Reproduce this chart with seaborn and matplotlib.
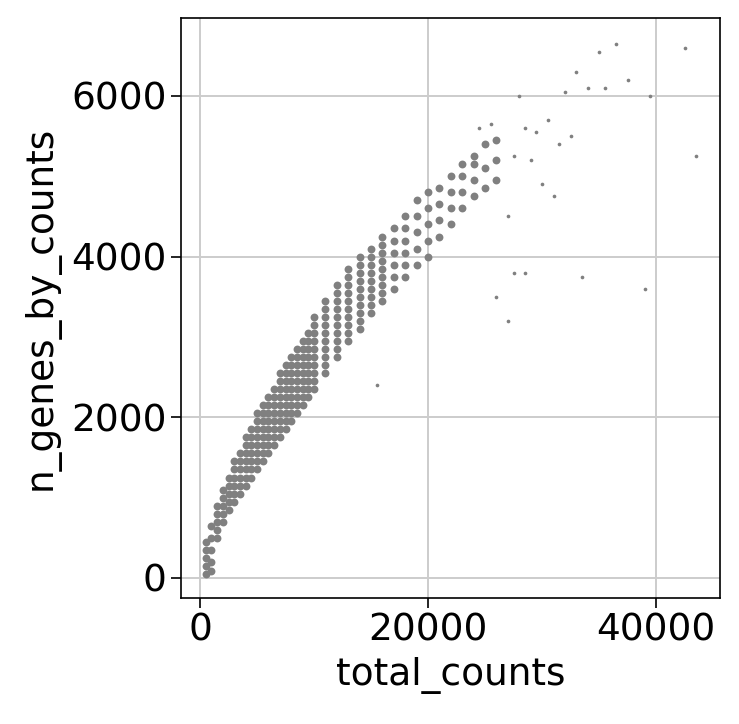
import matplotlib.pyplot as plt
import seaborn as sns
import pandas as pd

# dense band, read column by column (total_counts -> n_genes values)
band_x = [500, 1000, 1500, 2000, 2500, 3000, 3500, 4000, 4500, 5000, 5500, 6000,
          6500, 7000, 7500, 8000, 8500, 9000, 9500, 10000, 11000, 12000, 13000,
          14000, 15000, 16000, 17000, 18000, 19000, 20000, 21000, 22000, 23000,
          24000, 25000, 26000]
band_y = [
    [50, 150, 250, 350, 450],
    [80, 200, 350, 500, 650],
    [500, 600, 700, 800, 900],
    [700, 800, 900, 1000, 1100],
    [850, 950, 1050, 1150, 1250],
    [950, 1050, 1150, 1250, 1350, 1450],
    [1050, 1150, 1250, 1350, 1450, 1550],
    [1150, 1250, 1350, 1450, 1550, 1650, 1750],
    [1250, 1350, 1450, 1550, 1650, 1750, 1850],
    [1350, 1450, 1550, 1650, 1750, 1850, 1950, 2050],
    [1450, 1550, 1650, 1750, 1850, 1950, 2050, 2150],
    [1550, 1650, 1750, 1850, 1950, 2050, 2150, 2250],
    [1650, 1750, 1850, 1950, 2050, 2150, 2250, 2350],
    [1750, 1850, 1950, 2050, 2150, 2250, 2350, 2450, 2550],
    [1850, 1950, 2050, 2150, 2250, 2350, 2450, 2550, 2650],
    [1950, 2050, 2150, 2250, 2350, 2450, 2550, 2650, 2750],
    [2050, 2150, 2250, 2350, 2450, 2550, 2650, 2750, 2850],
    [2150, 2250, 2350, 2450, 2550, 2650, 2750, 2850, 2950],
    [2250, 2350, 2450, 2550, 2650, 2750, 2850, 2950, 3050],
    [2350, 2450, 2550, 2650, 2750, 2850, 2950, 3050, 3150, 3250],
    [2550, 2650, 2750, 2850, 2950, 3050, 3150, 3250, 3350, 3450],
    [2750, 2850, 2950, 3050, 3150, 3250, 3350, 3450, 3550, 3650],
    [2950, 3050, 3150, 3250, 3350, 3450, 3550, 3650, 3750, 3850],
    [3100, 3200, 3300, 3400, 3500, 3600, 3700, 3800, 3900, 4000],
    [3300, 3400, 3500, 3600, 3700, 3800, 3900, 4000, 4100],
    [3450, 3550, 3650, 3750, 3850, 3950, 4050, 4150, 4250],
    [3600, 3750, 3900, 4050, 4200, 4350],
    [3750, 3900, 4050, 4200, 4350, 4500],
    [3900, 4100, 4300, 4500, 4700],
    [4000, 4200, 4400, 4600, 4800],
    [4250, 4450, 4650, 4850],
    [4400, 4600, 4800, 5000],
    [4600, 4800, 5000, 5150],
    [4750, 4950, 5150, 5250],
    [4850, 5100, 5400],
    [4950, 5200, 5450],
]

# sparse cells at high counts
out_x = [27000, 26000, 27500, 28500, 31000, 33500, 39000, 43500, 42500, 36500,
         35000, 37500, 39500, 33000, 32000, 34000, 35500, 30500, 29500, 28000,
         27500, 31500, 30000, 29000, 28500, 32500, 15500, 27000, 24500, 25500]
out_y = [3200, 3500, 3800, 3800, 4750, 3750, 3600, 5250, 6600, 6650,
         6550, 6200, 6000, 6300, 6050, 6100, 6100, 5700, 5550, 6000,
         5250, 5400, 4900, 5200, 5600, 5500, 2400, 4500, 5600, 5650]

xs, ys = [], []
for x, col in zip(band_x, band_y):
    xs += [x] * len(col)
    ys += col
df = pd.DataFrame({"total_counts": xs, "n_genes_by_counts": ys})
df_out = pd.DataFrame({"total_counts": out_x, "n_genes_by_counts": out_y})

sns.set_style("whitegrid")
plt.rcParams["font.family"] = ["DejaVu Sans"]
plt.rcParams["text.color"] = "black"
fig = plt.figure(figsize=(7.39, 7.24), dpi=100)
ax = fig.add_axes([181 / 739, 126 / 724, 539 / 739, 580 / 724])
sns.scatterplot(data=df, x="total_counts", y="n_genes_by_counts", color="grey",
                s=32, linewidth=0, ax=ax)
sns.scatterplot(data=df_out, x="total_counts", y="n_genes_by_counts", color="grey",
                s=7, linewidth=0, ax=ax)
ax.set_xlim(-1667, 45600)
ax.set_ylim(-250, 6970)
ax.set_xticks([0, 20000, 40000])
ax.set_yticks([0, 2000, 4000, 6000])
ax.tick_params(labelsize=27, length=7, width=1.2, color="black",
               labelcolor="black", left=True, bottom=True)
ax.set_xlabel("total_counts", fontsize=27, color="black", labelpad=6)
ax.set_ylabel("n_genes_by_counts", fontsize=27, color="black", labelpad=8)
ax.grid(color="#cccccc", linewidth=1.4)
for s in ax.spines.values():
    s.set_color("black")
    s.set_linewidth(1.2)
fig.savefig("out.png", dpi=100)
